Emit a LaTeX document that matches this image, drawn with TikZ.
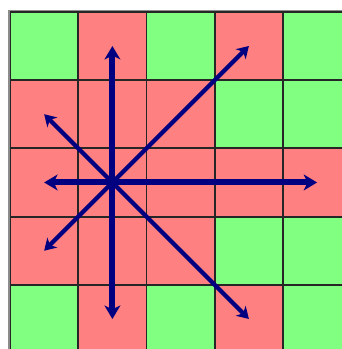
\documentclass[tikz,border=0pt]{standalone}
\usetikzlibrary{arrows.meta}
\definecolor{safegreen}{HTML}{80FF80}
\definecolor{attackred}{HTML}{FF8080}
\definecolor{movenavy}{HTML}{000080}

\begin{document}
\begin{tikzpicture}[
    cell/.style={draw=black!85, line width=0.8pt},
    straightmove/.style={movenavy, line width=2.5pt, -{Stealth[length=5.6pt, width=6.6pt, inset=1.6pt]}},
    diagmove/.style={movenavy, line width=1.75pt, -{Stealth[length=4.8pt, width=5.8pt, inset=1.4pt]}},
]
\useasboundingbox (-0.147,0.06) rectangle (4.864,5.174);

% Board squares
\fill[safegreen] (0,0) rectangle (5,5);
\foreach \c/\r in {1/0, 3/0, 0/1, 1/1, 2/1, 0/2, 1/2, 2/2, 3/2, 4/2,
                   0/3, 1/3, 2/3, 1/4, 3/4}
    \fill[attackred] (\c,4-\r) rectangle ++(1,1);
\draw[cell] (0,0) grid (5,5);
\draw[black!45, line width=0.6pt] (-0.018,0.06) -- (-0.018,5.018) -- (5.018,5.018);

% Queen and the squares reached
\coordinate (queen) at (1.5,2.5);
\coordinate (up) at (1.5,4.5);
\coordinate (down) at (1.5,0.5);
\coordinate (left) at (0.5,2.5);
\coordinate (right) at (4.5,2.5);
\coordinate (upleft) at (0.5,3.5);
\coordinate (upright) at (3.5,4.5);
\coordinate (downleft) at (0.5,1.5);
\coordinate (downright) at (3.5,0.5);

% Diagonal moves
\draw[diagmove] (queen) -- (upleft);
\draw[diagmove] (queen) -- (upright);
\draw[diagmove] (queen) -- (downleft);
\draw[diagmove] (queen) -- (downright);

% Straight moves
\draw[straightmove] (queen) -- (up);
\draw[straightmove] (queen) -- (down);
\draw[straightmove] (queen) -- (left);
\draw[straightmove] (queen) -- (right);

\end{tikzpicture}
\end{document}
